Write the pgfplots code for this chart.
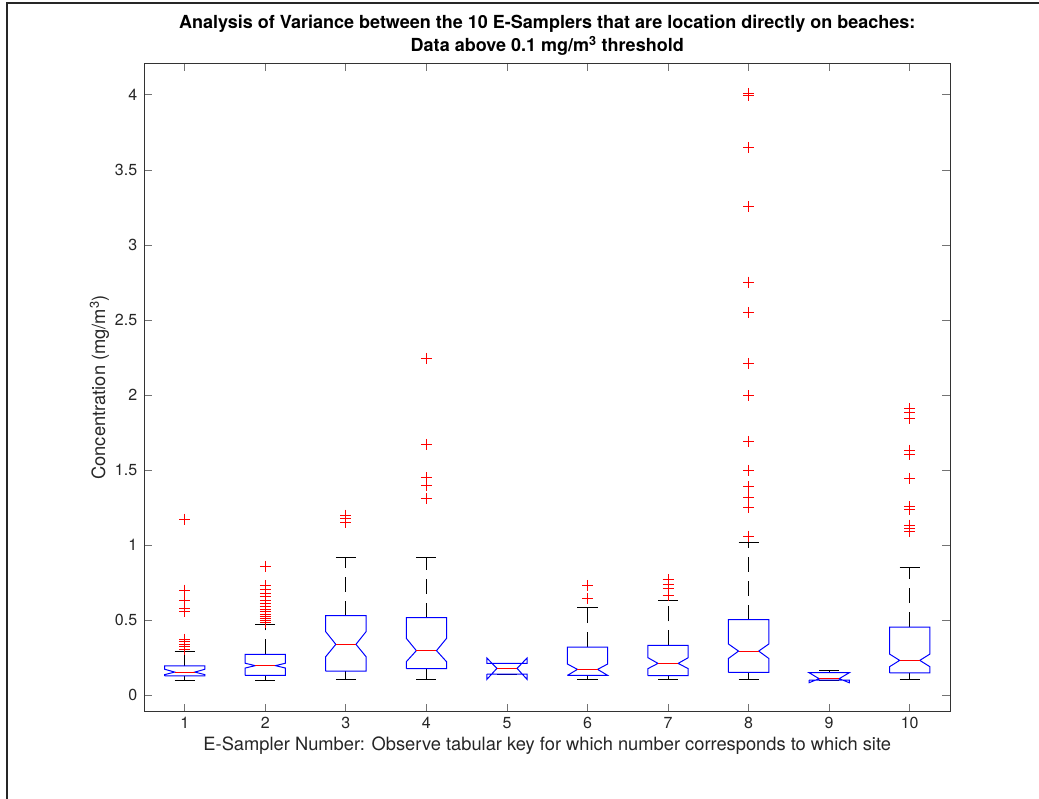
\documentclass[border=0pt]{standalone}
\usepackage{pgfplots}
\pgfplotsset{compat=1.18}
\usepackage{fontspec}
\setmainfont{TeX Gyre Heros}
\definecolor{mblue}{RGB}{0,0,255}
\definecolor{mred}{RGB}{255,0,0}
% notched box: #1=c-0.25 #2=c-0.125 #3=c+0.125 #4=c+0.25 #5=q1 #6=notch low #7=median #8=notch high #9=q3
\newcommand{\nbox}[9]{%
  \addplot[mblue, line width=1pt, line join=miter] coordinates {(#1,#5)(#1,#6)(#2,#7)(#1,#8)(#1,#9)(#4,#9)(#4,#8)(#3,#7)(#4,#6)(#4,#5)(#1,#5)};
  \addplot[mred, line width=1pt] coordinates {(#2,#7)(#3,#7)};}
% whiskers: #1=c #2=c-0.125 #3=c+0.125 #4=q1 #5=q3 #6=lower whisker #7=upper whisker
\newcommand{\whisk}[7]{%
  \addplot[black, line width=1pt, dash pattern=on 15pt off 9pt] coordinates {(#1,#5)(#1,#7)};
  \addplot[black, line width=1pt, dash pattern=on 15pt off 9pt] coordinates {(#1,#4)(#1,#6)};
  \addplot[black, line width=1pt] coordinates {(#2,#7)(#3,#7)};
  \addplot[black, line width=1pt] coordinates {(#2,#6)(#3,#6)};}
\begin{document}
\begin{tikzpicture}[x=1pt,y=1pt]
\path[use as bounding box] (0,0) rectangle (1039,798);
\draw[line width=2pt, black!85] (7.3,-20) -- (7.3,794.7) -- (1060,794.7);
\begin{axis}[
  at={(144.5pt,86.3pt)}, anchor=south west,
  width=805.5pt, height=648.7pt, scale only axis,
  xmin=0.5, xmax=10.5, ymin=-0.111, ymax=4.213,
  xtick={1,2,3,4,5,6,7,8,9,10},
  xticklabels={1,2,3,4,5,6,7,8,9,10},
  ytick={0,0.5,1,1.5,2,2.5,3,3.5,4},
  yticklabels={0,0.5,1,1.5,2,2.5,3,3.5,4},
  tick align=inside, major tick length=8pt,
  tick style={black!55, line width=0.9pt},
  axis line style={black!80, line width=0.9pt},
  tick label style={font=\fontsize{16}{16}\selectfont, text=black!85},
  yticklabel style={xshift=-3.8pt},
  xticklabel style={yshift=-1.8pt},
  clip=false,
]
% whiskers
\whisk{1}{0.875}{1.125}{0.127}{0.195}{0.100}{0.289}
\whisk{2}{1.875}{2.125}{0.131}{0.271}{0.100}{0.473}
\whisk{3}{2.875}{3.125}{0.160}{0.529}{0.104}{0.920}
\whisk{4}{3.875}{4.125}{0.176}{0.516}{0.104}{0.920}
\whisk{5}{4.875}{5.125}{0.140}{0.211}{0.140}{0.211}
\whisk{6}{5.875}{6.125}{0.131}{0.320}{0.102}{0.584}
\whisk{7}{6.875}{7.125}{0.129}{0.331}{0.104}{0.627}
\whisk{8}{7.875}{8.125}{0.151}{0.502}{0.102}{1.020}
\whisk{9}{8.875}{9.125}{0.100}{0.149}{0.100}{0.162}
\whisk{10}{9.875}{10.125}{0.147}{0.453}{0.102}{0.849}
% notched boxes
\nbox{0.75}{0.875}{1.125}{1.25}{0.127}{0.136}{0.153}{0.172}{0.195}
\nbox{1.75}{1.875}{2.125}{2.25}{0.131}{0.180}{0.196}{0.212}{0.271}
\nbox{2.75}{2.875}{3.125}{3.25}{0.160}{0.256}{0.338}{0.422}{0.529}
\nbox{3.75}{3.875}{4.125}{4.25}{0.176}{0.222}{0.296}{0.378}{0.516}
\nbox{4.75}{4.875}{5.125}{5.25}{0.140}{0.104}{0.178}{0.247}{0.211}
\nbox{5.75}{5.875}{6.125}{6.25}{0.131}{0.131}{0.171}{0.207}{0.320}
\nbox{6.75}{6.875}{7.125}{7.25}{0.129}{0.176}{0.211}{0.249}{0.331}
\nbox{7.75}{7.875}{8.125}{8.25}{0.151}{0.244}{0.293}{0.340}{0.502}
\nbox{8.75}{8.875}{9.125}{9.25}{0.100}{0.082}{0.109}{0.149}{0.149}
\nbox{9.75}{9.875}{10.125}{10.25}{0.147}{0.189}{0.231}{0.273}{0.453}
% outliers
\addplot[only marks, mark=+, mred, mark size=5.5pt, line width=1pt] coordinates {
 (1,0.305)(1,0.322)(1,0.339)(1,0.356)(1,0.373)(1,0.560)(1,0.578)(1,0.630)(1,0.700)(1,1.173)
 (2,0.482)(2,0.496)(2,0.510)(2,0.524)(2,0.540)(2,0.556)(2,0.572)(2,0.590)(2,0.611)(2,0.633)(2,0.660)(2,0.680)(2,0.705)(2,0.730)(2,0.860)
 (3,1.150)(3,1.180)(3,1.200)
 (4,1.307)(4,1.395)(4,1.450)(4,1.671)(4,2.244)
 (6,0.642)(6,0.731)
 (7,0.662)(7,0.711)(7,0.740)(7,0.767)
 (8,1.060)(8,1.253)(8,1.320)(8,1.389)(8,1.498)(8,1.691)(8,1.996)(8,2.211)(8,2.549)(8,2.753)(8,3.255)(8,3.651)(8,3.998)(8,4.011)
 (10,1.089)(10,1.111)(10,1.133)(10,1.238)(10,1.256)(10,1.444)(10,1.605)(10,1.633)(10,1.844)(10,1.880)(10,1.907)
};
\node[anchor=base, font=\bfseries\fontsize{18}{18}\selectfont] at (rel axis cs:0.5,1) [yshift=34pt] {Analysis of Variance between the 10 E-Samplers that are location directly on beaches:};
\node[anchor=base, font=\bfseries\fontsize{18}{18}\selectfont] at (rel axis cs:0.5,1) [yshift=11pt] {Data above 0.1 mg/m\textsuperscript{3} threshold};
\node[anchor=base, font=\fontsize{18.3}{18.3}\selectfont, text=black!85] at (rel axis cs:0.5,0) [yshift=-39pt] {E-Sampler Number: Observe tabular key for which number corresponds to which site};
\node[xshift=-45pt, anchor=center, rotate=90, font=\fontsize{18.3}{18.3}\selectfont, text=black!85] at (rel axis cs:0,0.5) {Concentration (mg/m\textsuperscript{3})};
\end{axis}
\end{tikzpicture}
\end{document}
